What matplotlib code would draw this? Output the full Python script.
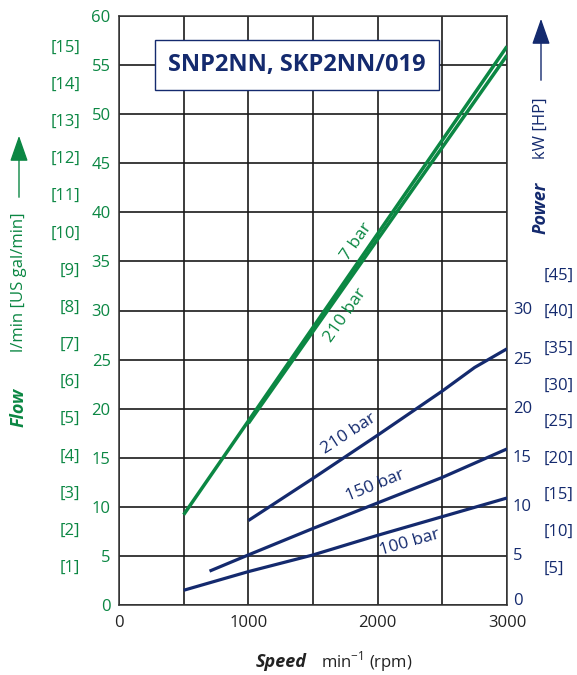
import matplotlib
matplotlib.use("Agg")
import matplotlib.pyplot as plt
import numpy as np

plt.rcParams['font.family'] = ['Open Sans', 'DejaVu Sans']

GREEN = '#0b8743'
NAVY = '#142a6e'

# Flow curves (l/min) vs speed (rpm)
flow_7bar_x = [500, 3000]
flow_7bar_y = [9.2, 56.9]
flow_210bar_x = [1000, 3000]
flow_210bar_y = [18.5, 56.0]

# Power curves (kW) vs speed (rpm)
pow_210_x = [1000, 1500, 2000, 2500, 2750, 3000]
pow_210_y = [8.6, 12.9, 17.3, 21.8, 24.2, 26.1]
pow_150_x = [700, 1000, 1500, 2000, 2500, 3000]
pow_150_y = [3.45, 5.1, 7.8, 10.4, 13.0, 15.9]
pow_100_x = [500, 1000, 1500, 2000, 2500, 3000]
pow_100_y = [1.5, 3.4, 5.1, 7.1, 9.0, 10.9]

flow_ticks = list(range(0, 61, 5))
gal_ticks = list(range(1, 16))
kw_ticks = list(range(0, 31, 5))
hp_ticks = list(range(5, 46, 5))
speed_ticks = [0, 1000, 2000, 3000]

W, H = 577, 675
fig = plt.figure(figsize=(W / 100, H / 100), dpi=100)
L, R, T, B = 119, 507, 16, 605
ax = fig.add_axes([L / W, 1 - B / H, (R - L) / W, (B - T) / H])
ax.set_xlim(0, 3000)
ax.set_ylim(0, 60)

for x in range(0, 3001, 500):
    ax.axvline(x, color='#1a1a1a', lw=1.2, zorder=1)
for y in range(0, 61, 5):
    ax.axhline(y, color='#1a1a1a', lw=1.2, zorder=1)
for s in ax.spines.values():
    s.set_color('#333333')
    s.set_linewidth(1.1)

ax.set_xticks(speed_ticks)
ax.set_xticklabels([str(v) for v in speed_ticks], fontsize=12, color='#222222')
ax.tick_params(axis='x', length=0, pad=7)
ax.set_yticks(flow_ticks)
ax.set_yticklabels([str(v) for v in flow_ticks], fontsize=12, color=GREEN)
ax.tick_params(axis='y', length=0, pad=6)

# US gal/min labels
for g in gal_ticks:
    ax.text(-0.1, g * 3.785, f'[{g}]', transform=ax.get_yaxis_transform(),
            ha='right', va='center', fontsize=12, color=GREEN)

# right kW labels
for k in kw_ticks:
    ax.text(1.015, k + (0.4 if k == 0 else 0), str(k), transform=ax.get_yaxis_transform(),
            ha='left', va='center', fontsize=12, color=NAVY)
for h in hp_ticks:
    ax.text(1.095, h * 0.7457, f'[{h}]', transform=ax.get_yaxis_transform(),
            ha='left', va='center', fontsize=12, color=NAVY)

# curves
ax.plot(flow_7bar_x, flow_7bar_y, color=GREEN, lw=2.5, zorder=3, solid_capstyle='butt')
ax.plot(flow_210bar_x, flow_210bar_y, color=GREEN, lw=2.5, zorder=3, solid_capstyle='butt')
for xs, ys in [(pow_210_x, pow_210_y), (pow_150_x, pow_150_y), (pow_100_x, pow_100_y)]:
    ax.plot(xs, ys, color=NAVY, lw=2.3, zorder=3, solid_capstyle='butt')

# curve labels
ax.text(1841, 37.0, '7 bar', color=GREEN, fontsize=12.5, rotation=55, ha='center', va='center', zorder=4)
ax.text(1751, 29.5, '210 bar', color=GREEN, fontsize=12.5, rotation=55, ha='center', va='center', zorder=4)
ax.text(1777, 17.4, '210 bar', color=NAVY, fontsize=12.5, rotation=33, ha='center', va='center', zorder=4)
ax.text(1982, 12.2, '150 bar', color=NAVY, fontsize=12.5, rotation=22, ha='center', va='center', zorder=4)
ax.text(2251, 6.4, '100 bar', color=NAVY, fontsize=12.5, rotation=16, ha='center', va='center', zorder=4)

# title box
ax.text(1377, 55.0, 'SNP2NN, SKP2NN/019', color=NAVY, fontsize=17, fontweight='bold',
        ha='center', va='center', zorder=5,
        bbox=dict(boxstyle='square,pad=0.55', fc='white', ec=NAVY, lw=1.0))

def fx(x):
    return x / W

def fy(y):
    return 1 - y / H

# left axis label
fig.text(fx(19), fy(407), 'Flow', color=GREEN, fontsize=13, fontweight='bold', style='italic',
         rotation=90, ha='center', va='center')
fig.text(fx(19), fy(282), 'l/min [US gal/min]', color=GREEN, fontsize=12,
         rotation=90, ha='center', va='center')
fig.add_artist(matplotlib.patches.FancyArrowPatch((fx(19), fy(200)), (fx(19), fy(133)),
               transform=fig.transFigure, arrowstyle='-|>,head_length=8,head_width=2.8',
               color=GREEN, lw=1.0, mutation_scale=2.0))

# right axis label
fig.text(fx(541), fy(208), 'Power', color=NAVY, fontsize=13, fontweight='bold', style='italic',
         rotation=90, ha='center', va='center')
fig.text(fx(541), fy(128), 'kW [HP]', color=NAVY, fontsize=12,
         rotation=90, ha='center', va='center')
fig.add_artist(matplotlib.patches.FancyArrowPatch((fx(541), fy(83)), (fx(541), fy(16)),
               transform=fig.transFigure, arrowstyle='-|>,head_length=8,head_width=2.8',
               color=NAVY, lw=1.0, mutation_scale=2.0))

# x axis label
fig.text(fx(307), fy(662), 'Speed', color='#222222', fontsize=13, fontweight='bold', style='italic',
         ha='right', va='center')
fig.text(fx(321), fy(662), r'min$^{\mathregular{-1}}$ (rpm)', color='#222222', fontsize=12,
         ha='left', va='center')

fig.savefig('out.png', dpi=100)
